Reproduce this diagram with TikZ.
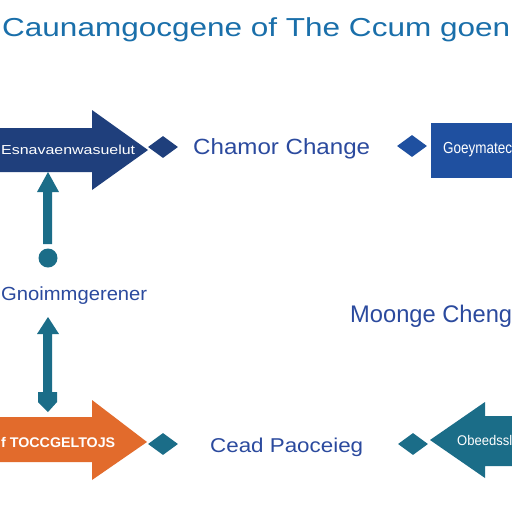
\documentclass[tikz,border=0pt]{standalone}
\usepackage{fontspec}
\setmainfont{Liberation Sans}
\usetikzlibrary{shapes.geometric}
\definecolor{titleblue}{HTML}{1A6FAA}
\definecolor{navy}{HTML}{1F3F7C}
\definecolor{boxblue}{HTML}{1F50A0}
\definecolor{labelblue}{HTML}{2B4A9E}
\definecolor{tealc}{HTML}{1B6D88}
\definecolor{orangec}{HTML}{E26B2C}
\newcommand\fitw[2]{\resizebox{#1}{\height}{#2}}
\begin{document}
\begin{tikzpicture}[x=1pt,y=-1pt,
  lbl/.style={inner sep=0pt,text=labelblue},
  wlbl/.style={inner sep=0pt,text=white},
  dia/.style={diamond,inner sep=0pt,minimum width=30pt,minimum height=22pt}]
\useasboundingbox (0,0) rectangle (512,512);
\fill[white] (0,0) rectangle (512,512);
% title
\node[inner sep=0pt,text=titleblue,anchor=west] (title) at (2,30) {\fitw{508pt}{\fontsize{26}{30}\selectfont Caunamgocgene of The Ccum goen}};
% top-left navy arrow
\fill[navy] (0,128) -- (92,128) -- (92,110) -- (148,150) -- (92,190) -- (92,172) -- (0,172) -- cycle;
\node[wlbl,anchor=west] (t1) at (1,150) {\fitw{134pt}{\fontsize{13}{15}\selectfont Esnavaenwasuelut}};
\node[dia,fill=navy] (d1) at (163,147) {};
\node[lbl,anchor=west] (t2) at (193,149) {\fitw{177pt}{\fontsize{22}{26}\selectfont Chamor Change}};
\node[dia,fill=boxblue] (d2) at (412,146) {};
\fill[boxblue] (431,123) rectangle (512,178);
\node[wlbl,anchor=west] (t3) at (443,150) {\fitw{69pt}{\fontsize{16}{18}\selectfont Goeymatec}};
% upper teal connector
\fill[tealc] (37,192) -- (48,172) -- (59,192) -- (52,192) -- (52,244) -- (43,244) -- (43,192) -- cycle;
\fill[tealc] (48,258) circle (9.5);
\node[lbl,anchor=west] (t4) at (1,296) {\fitw{146pt}{\fontsize{19}{22}\selectfont Gnoimmgerener}};
% lower teal connector
\fill[tealc] (37,334) -- (48,317) -- (59,334) -- (52,334) -- (52,392) -- (57,392) -- (57,402) -- (48,412) -- (38,402) -- (38,392) -- (43,392) -- (43,334) -- cycle;
\node[lbl,anchor=west] (t5) at (350,316) {\fitw{162pt}{\fontsize{24}{28}\selectfont Moonge Cheng}};
% bottom-left orange arrow
\fill[orangec] (0,417) -- (92,417) -- (92,400) -- (147,442) -- (92,480) -- (92,462) -- (0,462) -- cycle;
\node[wlbl,anchor=west] (t6) at (1,442) {\fitw{114pt}{\fontsize{14}{16}\selectfont\bfseries f TOCCGELTOJS}};
\node[dia,fill=tealc] (d3) at (163,444) {};
\node[lbl,anchor=west] (t7) at (210,447) {\fitw{153pt}{\fontsize{20}{24}\selectfont Cead Paoceieg}};
\node[dia,fill=tealc] (d4) at (413,444) {};
% bottom-right teal arrow
\fill[tealc] (512,416) -- (485,416) -- (485,402) -- (430,440) -- (485,478) -- (485,466) -- (512,466) -- cycle;
\node[wlbl,anchor=west] (t8) at (457,440) {\fitw{55pt}{\fontsize{14}{16}\selectfont Obeedssl}};
\end{tikzpicture}
\end{document}
